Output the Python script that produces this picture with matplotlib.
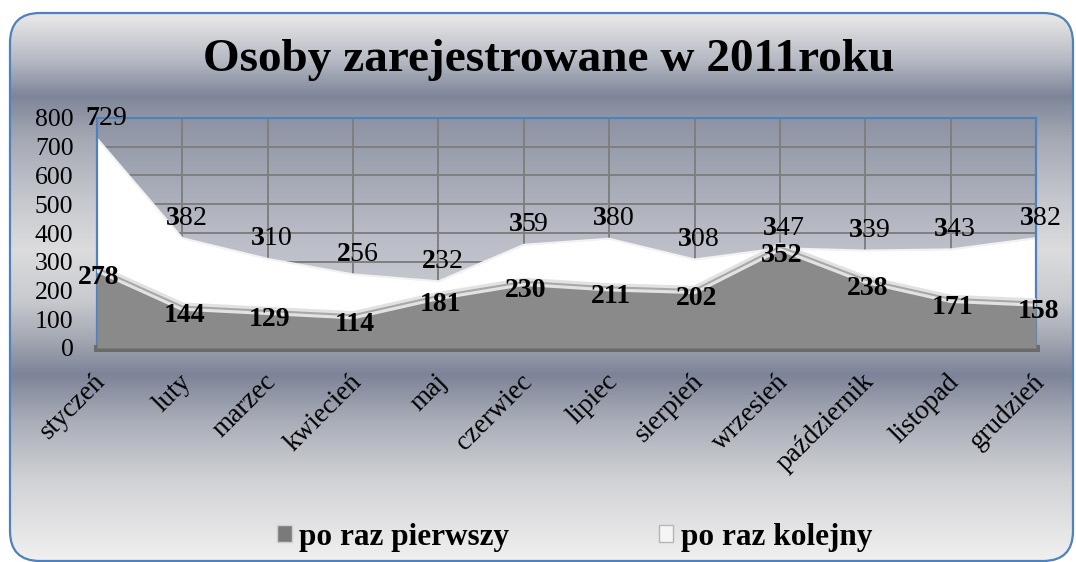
import numpy as np
import matplotlib.pyplot as plt
from matplotlib.colors import LinearSegmentedColormap
from matplotlib.patches import FancyBboxPatch, Patch

# data
months = ['styczeń', 'luty', 'marzec', 'kwiecień', 'maj', 'czerwiec',
          'lipiec', 'sierpień', 'wrzesień', 'październik', 'listopad', 'grudzień']
pierwszy = [278, 144, 129, 114, 181, 230, 211, 202, 352, 238, 171, 158]
kolejny = [729, 382, 310, 256, 232, 359, 380, 308, 347, 339, 343, 382]
yticks = [0, 100, 200, 300, 400, 500, 600, 700, 800]
title = 'Osoby zarejestrowane w 2011roku'

plt.rcParams['font.family'] = ['Liberation Serif', 'DejaVu Serif']
plt.rcParams['mathtext.fontset'] = 'custom'
plt.rcParams['mathtext.rm'] = 'Liberation Serif'
plt.rcParams['mathtext.bf'] = 'Liberation Serif:bold'

W, H = 1076, 562
fig = plt.figure(figsize=(W / 100, H / 100), dpi=100)
fig.patch.set_facecolor('white')

# background panel with gradient
bg = fig.add_axes([0, 0, 1, 1])
bg.axis('off')
stops = [(0, '#ebebeb'), (18, '#e4e4e4'), (60, '#b4b8c2'), (95, '#7e8599'),
         (135, '#a3a7b2'), (200, '#c6c8ce'), (250, '#dcdcde'), (300, '#c8cacf'),
         (340, '#a3a7b2'), (375, '#7d8498'), (420, '#a8acb7'), (480, '#d0d1d5'),
         (562, '#f0f0f0')]
bg_cmap = LinearSegmentedColormap.from_list('bg', [(y / H, c) for y, c in stops])
grad = np.linspace(0, 1, 400).reshape(-1, 1)
im = bg.imshow(grad, cmap=bg_cmap, aspect='auto', extent=(0, W, H, 0), zorder=0)
box = FancyBboxPatch((10, 13), W - 13, H - 14,
                     boxstyle='round,pad=0,rounding_size=30',
                     fc='none', ec='#4f81bd', lw=1.6, zorder=2)
bg.add_patch(box)
im.set_clip_path(box)
bg.set_xlim(0, W)
bg.set_ylim(H, 0)

# plot area
ax = fig.add_axes([97 / W, (H - 348) / H, (1036 - 97) / W, 230 / H])
x = np.arange(len(months))
pa_cmap = LinearSegmentedColormap.from_list('pa', ['#8d93a3', '#b9bcc6', '#d4d5d9'])
ax.imshow(grad, cmap=pa_cmap, aspect='auto', extent=(0, len(months) - 1, 0, 800), zorder=0)

ax.set_xlim(0, len(months) - 1)
ax.set_ylim(0, 800)
ax.set_xticks(x)
ax.set_yticks(yticks)
ax.grid(True, color='#7f7f7f', lw=1.4)
ax.set_axisbelow(True)

ax.fill_between(x, 0, kolejny, color='white', lw=0, zorder=2)
ax.plot(x, kolejny, color='#f2f2f2', lw=1.5, zorder=2)
ax.fill_between(x, 0, pierwszy, color='#8a8a8a', lw=0, zorder=3)
ax.plot(x, pierwszy, color='#e2e2e2', lw=6, zorder=3, solid_capstyle='butt')
ax.plot(x, pierwszy, color='#a8a8a8', lw=1.5, zorder=4)

for side in ['top', 'right', 'left']:
    ax.spines[side].set_color('#4f81bd')
    ax.spines[side].set_linewidth(1.6)
ax.spines['bottom'].set_color('#6a6a6a')
ax.spines['bottom'].set_linewidth(5)

ax.tick_params(length=0, labelsize=18.5, pad=17)
ax.set_xticklabels([])

for i, m in enumerate(months):
    ax.annotate(m, xy=(i, 0), xycoords=('data', 'axes fraction'),
                xytext=(5, -30), textcoords='offset pixels',
                rotation=45, ha='right', va='center', rotation_mode='anchor',
                fontsize=19.5)

# value labels
for i, v in enumerate(kolejny):
    s = str(v)
    ax.annotate('$\\mathbf{%s}$%s' % (s[0], s[1:]), xy=(i, v),
                xytext=(4 if i else 9, 20), textcoords='offset pixels',
                ha='center', va='center', fontsize=20, zorder=6)
for i, v in enumerate(pierwszy):
    ax.annotate(str(v), xy=(i, v), xytext=(2, -9), textcoords='offset pixels',
                ha='center', va='center', fontsize=20, fontweight='bold', zorder=6)

fig.text(0.51, 1 - 60 / H, title, ha='center', va='center',
         fontsize=34, fontweight='bold')

handles = [Patch(fc='#7a7a7a', ec='#cfcfcf', lw=1),
           Patch(fc='#f5f5f5', ec='#b5b5b5', lw=1)]
fig.legend(handles, ['po raz pierwszy', 'po raz kolejny'], loc='center',
           bbox_to_anchor=(575 / W, 1 - 537 / H), ncol=2, frameon=False,
           prop={'weight': 'bold', 'size': 22.5}, handlelength=0.45,
           handleheight=0.45, handletextpad=0.25, columnspacing=4.8)

fig.savefig('out.png', dpi=100)
